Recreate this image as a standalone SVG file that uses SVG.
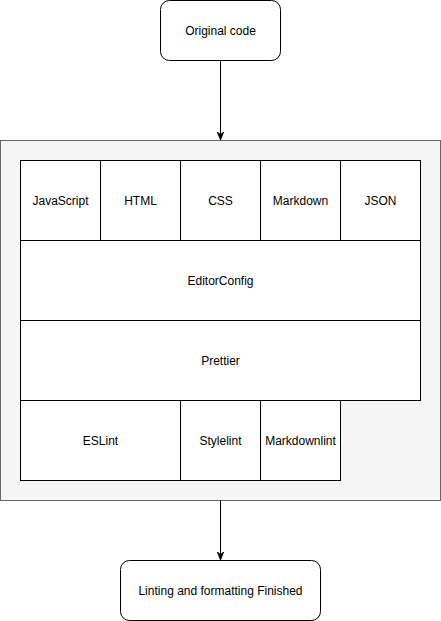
<svg xmlns="http://www.w3.org/2000/svg" width="441" height="621" viewBox="0 0 441 621">
<style>
.box{fill:#ffffff;stroke:#000000;stroke-width:1}
.cont{fill:#f5f5f5;stroke:#666666;stroke-width:1}
.lbl{font-family:"Liberation Sans",Arial,sans-serif;font-size:12px;fill:#000000;text-anchor:middle;dominant-baseline:central}
.edge{fill:none;stroke:#000000;stroke-width:1}
</style>
<defs>
<marker id="arr" viewBox="0 0 10 10" refX="10" refY="5" markerWidth="8" markerHeight="8" markerUnits="userSpaceOnUse" orient="auto">
<path d="M0,1 L10,5 L0,9 L3,5 Z" fill="#000000" stroke="#000000" stroke-width="1"/>
</marker>
</defs>
<g id="container"><rect class="cont" x="0.5" y="140.5" width="440" height="360"/></g>
<g id="original"><rect class="box" x="160.5" y="0.5" width="120" height="60" rx="9" ry="9"/><text class="lbl" x="220.5" y="31">Original code</text></g>
<g id="javascript"><rect class="box" x="20.5" y="160.5" width="80" height="80"/><text class="lbl" x="60.5" y="201">JavaScript</text></g>
<g id="html"><rect class="box" x="100.5" y="160.5" width="80" height="80"/><text class="lbl" x="140.5" y="201">HTML</text></g>
<g id="css"><rect class="box" x="180.5" y="160.5" width="80" height="80"/><text class="lbl" x="220.5" y="201">CSS</text></g>
<g id="markdown"><rect class="box" x="260.5" y="160.5" width="80" height="80"/><text class="lbl" x="300.5" y="201">Markdown</text></g>
<g id="json"><rect class="box" x="340.5" y="160.5" width="80" height="80"/><text class="lbl" x="380.5" y="201">JSON</text></g>
<g id="editorconfig"><rect class="box" x="20.5" y="240.5" width="400" height="80"/><text class="lbl" x="220.5" y="281">EditorConfig</text></g>
<g id="prettier"><rect class="box" x="20.5" y="320.5" width="400" height="80"/><text class="lbl" x="220.5" y="361">Prettier</text></g>
<g id="eslint"><rect class="box" x="20.5" y="400.5" width="160" height="80"/><text class="lbl" x="100.5" y="441">ESLint</text></g>
<g id="stylelint"><rect class="box" x="180.5" y="400.5" width="80" height="80"/><text class="lbl" x="220.5" y="441">Stylelint</text></g>
<g id="markdownlint"><rect class="box" x="260.5" y="400.5" width="80" height="80"/><text class="lbl" x="300.5" y="441">Markdownlint</text></g>
<g id="finished"><rect class="box" x="120.5" y="560.5" width="200" height="60" rx="9" ry="9"/><text class="lbl" x="220.5" y="591">Linting and formatting Finished</text></g>
<g id="connectors">
<path class="edge" d="M220.5,60.5 L220.5,140" marker-end="url(#arr)"/>
<path class="edge" d="M220.5,500.5 L220.5,560" marker-end="url(#arr)"/>
</g>
</svg>
